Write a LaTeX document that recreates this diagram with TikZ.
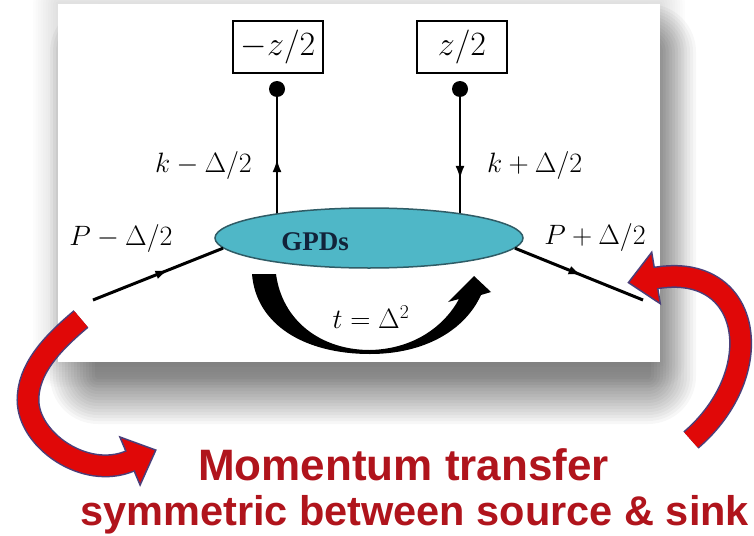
\RequirePackage{fix-cm}
\documentclass[tikz,border=0pt]{standalone}
\usepackage{fontspec}
\newfontfamily\capfont{Liberation Sans}
\newfontfamily\timesfont{Liberation Serif}
\usetikzlibrary{shapes.geometric,arrows.meta,decorations.markings}
\definecolor{gpdfill}{HTML}{4FB7C7}
\definecolor{gpdedge}{HTML}{2F5C66}
\definecolor{gpdtext}{HTML}{12233A}
\definecolor{capred}{HTML}{B0141C}
\definecolor{arrred}{HTML}{E00808}
\definecolor{arredge}{HTML}{4A3F7A}
\pgfdeclarelayer{back}
\pgfdeclarelayer{mid}
\pgfsetlayers{back,mid,main}
\begin{document}
\begin{tikzpicture}[x=1pt,y=-1pt,
  mlabel/.style={font=\fontsize{28}{30}\selectfont, inner sep=0pt},
  zbox/.style={draw, line width=1.5pt, minimum width=90pt, minimum height=52pt, inner sep=0pt, font=\fontsize{34}{36}\selectfont},
  vdot/.style={circle, fill=black, inner sep=0pt, minimum size=16pt},
  vline/.style={line width=1.8pt},
  pline/.style={line width=3pt},
  midarrow/.style={postaction={decorate, decoration={markings, mark=at position #1 with {\arrow{Latex[length=13pt,width=9pt]}}}}},
  redbody/.style={draw=arredge, line width=1.5pt, double=arrred, double distance=20pt},
  redhead/.style={fill=arrred, draw=arredge, line width=1.5pt, line join=miter},
  caption/.style={text=capred, fill=white, inner ysep=5pt}
]
\useasboundingbox (0,0) rectangle (754,535);
\begin{pgfonlayer}{back}
\fill[white] (0,0) rectangle (754,535);
\foreach \i in {1,...,10} {
  \pgfmathsetmacro\rr{\i*2.5}
  \fill[black, opacity=0.012, rounded corners=\rr pt] (58-\rr, 4-\rr) rectangle (660+\rr, 362+\rr);
}
\foreach \i in {1,...,16} {
  \pgfmathsetmacro\rr{\i*3}
  \fill[black, opacity=0.03, rounded corners=\rr pt] (98-\rr, 52-\rr) rectangle (648+\rr, 376+\rr);
}
\fill[white] (58,4) rectangle (660,362);
\end{pgfonlayer}

% vertex and field points
\node[zbox] (bl) at (278,47) {$-z/2$};
\node[zbox] (br) at (462,47) {$z/2$};
\node[vdot] (dl) at (277,89) {};
\node[vdot] (dr) at (460,89) {};
\node[ellipse, draw=gpdedge, fill=gpdfill, line width=1.5pt, minimum width=308pt, minimum height=60pt, inner sep=0pt] (gpd) at (369,238) {};
\node[font=\timesfont\bfseries\fontsize{27}{29}\selectfont, text=gpdtext] (gpdl) at (315,242) {GPDs};

\coordinate (pin) at (93,300);
\coordinate (pout) at (643,300);

\begin{pgfonlayer}{mid}
\draw[vline, midarrow=0.56] (dl |- gpd.center) -- (dl);
\draw[vline, midarrow=0.58] (dr) -- (dr |- gpd.center);
\end{pgfonlayer}
\draw[pline, midarrow=0.58] (pin) -- (gpd.184);
\draw[pline, midarrow=0.52] (gpd.-4) -- (pout);

% labels
\node[mlabel, anchor=east] (kl) at (252,165) {$k-\Delta/2$};
\node[mlabel, anchor=west] (kr) at (487,165) {$k+\Delta/2$};
\node[mlabel] (pl) at (121,238) {$P-\Delta/2$};
\node[mlabel] (pr) at (595,237) {$P+\Delta/2$};
\node[mlabel] (tl) at (371,317) {$t=\Delta^2$};

% black momentum-transfer arrow
\fill[black] (252,274) .. controls (256,325) and (305,354) .. (370,354)
  .. controls (425,354) and (465,330) .. (481,295) -- (491,292) -- (474,276) -- (448,302) -- (459,299)
  .. controls (445,325) and (415,349) .. (370,350)
  .. controls (320,350) and (282,320) .. (276,274) -- cycle;

% red arrows
\draw[redbody] (81,319) .. controls (50,345) and (28,370) .. (28,400) .. controls (28,440) and (85,480) .. (130,461);
\draw[redhead] (140.1,485) -- (155.8,450.1) -- (119.9,437) -- cycle;
\draw[arrred, line width=20pt] (128.2,461.8) -- (131.8,460.2);

\draw[redbody] (691,440) .. controls (770,372) and (752,262) .. (656,278);
\draw[redhead] (660.3,303.7) -- (628.4,282.6) -- (651.7,252.3) -- cycle;
\draw[arrred, line width=20pt] (658,277.7) -- (654,278.3);

% captions
\node[caption, font=\capfont\bfseries\fontsize{44}{46}\selectfont, anchor=base west, inner xsep=11pt] (cap1) at (187,480) {Momentum transfer};
\node[caption, font=\capfont\bfseries\fontsize{41.5}{44}\selectfont, anchor=base west, inner xsep=3pt] (cap2) at (77,525) {symmetric between source \& sink};
\end{tikzpicture}
\end{document}
